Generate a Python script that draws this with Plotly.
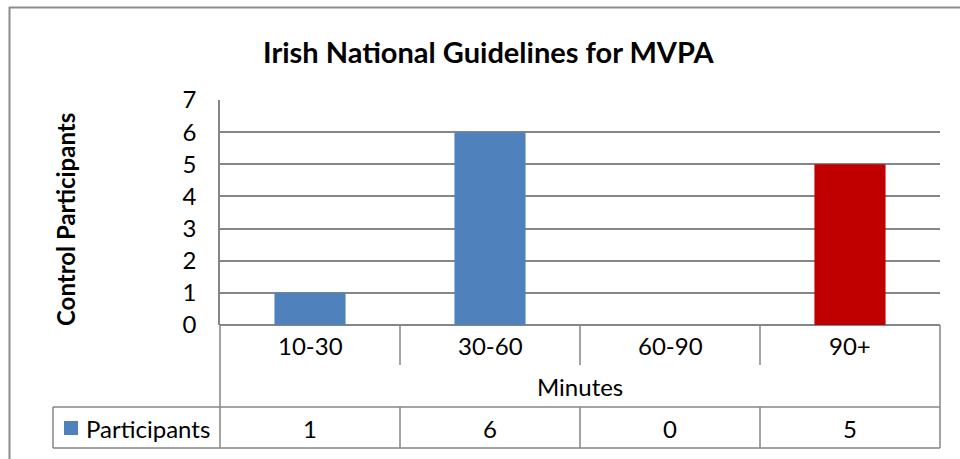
import plotly.graph_objects as go

# ---- data ----
categories = ["10-30", "30-60", "60-90", "90+"]
participants = [1, 6, 0, 5]
bar_colors = ["#4F81BD", "#4F81BD", "#4F81BD", "#C00000"]
series_name = "Participants"
title_text = "Irish National Guidelines for MVPA"
y_title = "Control Participants"
x_title = "Minutes"
y_ticks = [0, 1, 2, 3, 4, 5, 6, 7]

# ---- layout geometry (pixels) ----
W, H = 960, 459
L, R, T, B = 220, 20, 100, 134
PW, PH = W - L - R, H - T - B
FONT = "Lato"
GRID = "#868686"
XR = [-0.5, len(categories) - 0.5]
TXT = 24


def px(x):
    return (x - L) / PW


def py(y):
    return (T + PH - y) / PH


def cat_paper(v):
    return (v - XR[0]) / (XR[1] - XR[0])


fig = go.Figure()
fig.add_trace(go.Bar(
    x=categories, y=participants, name=series_name,
    marker=dict(color=bar_colors, line=dict(width=0)),
    showlegend=False,
))

shapes = []


def line(x0, y0, x1, y1, color=GRID, width=1.5):
    shapes.append(dict(type="line", xref="paper", yref="paper",
                       x0=x0, y0=y0, x1=x1, y1=y1,
                       line=dict(color=color, width=width)))


# outer chart border (top and left)
line(px(9), py(7.5), px(962), py(7.5), color="#8c8c8c", width=2)
line(px(9.5), py(7), px(9.5), py(462), color="#8c8c8c", width=2)

# data table lines
row1_bottom = 365
row2_bottom = 407
row3_bottom = 448
n = len(categories)
line(0, py(325), 0, py(row3_bottom))
line(1, py(325), 1, py(row3_bottom))
for k in range(1, n):
    xv = cat_paper(k - 0.5)
    line(xv, py(325), xv, py(row1_bottom))
    line(xv, py(row2_bottom), xv, py(row3_bottom))
line(px(53), py(row2_bottom), 1, py(row2_bottom))
line(px(53), py(row3_bottom), 1, py(row3_bottom))
line(px(53), py(row2_bottom), px(53), py(row3_bottom))
# legend key square
shapes.append(dict(type="rect", xref="paper", yref="paper",
                   x0=px(64), x1=px(78), y0=py(435), y1=py(421),
                   fillcolor=bar_colors[0], line=dict(width=0)))

annotations = []
annotations.append(dict(text="<b>" + title_text + "</b>", xref="paper", yref="paper",
                        x=px(488), y=py(52), showarrow=False,
                        xanchor="center", yanchor="middle",
                        font=dict(family=FONT, size=29, color="#000000")))
annotations.append(dict(text="<b>" + y_title + "</b>", xref="paper", yref="paper",
                        x=px(65), y=py(220), showarrow=False, textangle=-90,
                        xanchor="center", yanchor="middle",
                        font=dict(family=FONT, size=24, color="#000000")))
for c, v in zip(categories, participants):
    annotations.append(dict(text=c, xref="x", yref="paper", x=c, y=py(345),
                            showarrow=False, xanchor="center", yanchor="middle",
                            font=dict(family=FONT, size=TXT, color="#000000")))
    annotations.append(dict(text=str(v), xref="x", yref="paper", x=c, y=py(428),
                            showarrow=False, xanchor="center", yanchor="middle",
                            font=dict(family=FONT, size=TXT, color="#000000")))
annotations.append(dict(text=x_title, xref="paper", yref="paper", x=0.5, y=py(386),
                        showarrow=False, xanchor="center", yanchor="middle",
                        font=dict(family=FONT, size=TXT, color="#000000")))
annotations.append(dict(text=series_name, xref="paper", yref="paper", x=px(84), y=py(428),
                        showarrow=False, xanchor="left", yanchor="middle",
                        font=dict(family=FONT, size=TXT, color="#000000")))

fig.update_layout(
    width=W, height=H,
    margin=dict(l=L, r=R, t=T, b=B, pad=0),
    paper_bgcolor="white", plot_bgcolor="white",
    bargap=0.605,
    shapes=shapes, annotations=annotations,
    font=dict(family=FONT, size=TXT, color="#000000"),
    xaxis=dict(range=XR, showticklabels=False, showgrid=False, zeroline=False,
               showline=False, ticks=""),
    yaxis=dict(range=[0, 7], tickvals=y_ticks, showgrid=True, gridcolor=GRID, gridwidth=1.5,
               zeroline=True, zerolinecolor=GRID, zerolinewidth=1.5,
               showline=True, linecolor=GRID, linewidth=1.5,
               ticks="", ticklabelstandoff=17,
               tickfont=dict(family=FONT, size=TXT, color="#000000")),
)

fig.write_html(
    "out.html",
    config={"displayModeBar": False},
    post_script=("document.body.style.margin='0';document.body.style.padding='0';"
                 "document.body.style.overflow='hidden';"
                 "document.documentElement.style.overflow='hidden';"),
)
